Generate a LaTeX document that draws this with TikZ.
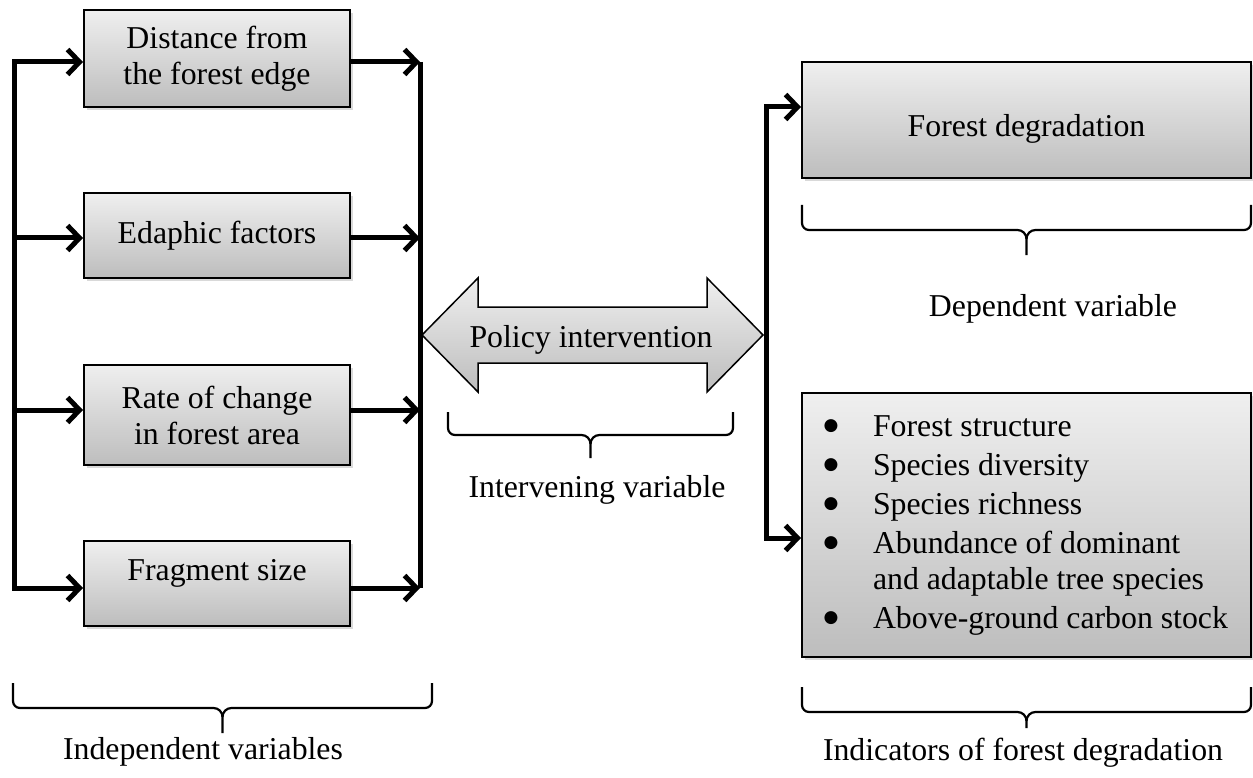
\documentclass[tikz,border=0pt]{standalone}
\usepackage{fontspec}
\setmainfont{Liberation Serif}
\newfontfamily\symfont{DejaVu Sans}
\usetikzlibrary{arrows.meta,shadows}
\definecolor{gtop}{HTML}{EFEFEF}
\definecolor{gbot}{HTML}{BDBDBD}
\newcommand{\mybrace}[5]{%
  \pgfmathsetmacro\bxc{(#1+#2)/2}%
  \pgfmathsetmacro\bxl{#1+7}%
  \pgfmathsetmacro\bxr{#2-7}%
  \pgfmathsetmacro\bxcl{\bxc-9}%
  \pgfmathsetmacro\bxcr{\bxc+9}%
  \pgfmathsetmacro\byc{-#4+7}%
  \pgfmathsetmacro\byb{-#4}%
  \pgfmathsetmacro\bys{-#4-9}%
  \pgfmathsetmacro\byt{-#5}%
  \pgfmathsetmacro\bye{-#3}%
  \draw[bracel] (#1,\bye) -- (#1,\byc) to[out=-90,in=180] (\bxl,\byb)
     -- (\bxcl,\byb) to[out=0,in=90] (\bxc,\bys) -- (\bxc,\byt);
  \draw[bracel] (\bxc,\bys) to[out=90,in=180] (\bxcr,\byb)
     -- (\bxr,\byb) to[out=0,in=-90] (#2,\byc) -- (#2,\bye);
}
\newcommand{\bigbul}{\makebox[12pt][c]{\raisebox{5.5pt}{\fontsize{17}{17}\selectfont\symfont ●}}}
\tikzset{
  every node/.style={font=\fontsize{31.8}{36}\selectfont},
  box/.style={draw=black, line width=2pt, top color=gtop, bottom color=gbot,
    drop shadow={opacity=0.3, shadow xshift=2.5pt, shadow yshift=-3pt},
    inner sep=0pt, align=center, minimum width=266pt},
  bigbox/.style={box, minimum width=449pt},
  conn/.style={line width=5pt},
  arr/.style={-{Straight Barb[length=12pt,width=25pt]}},
  darr/.style={{Straight Barb[length=12pt,width=25pt]}-{Straight Barb[length=12pt,width=25pt]}},
  bracel/.style={line width=2.2pt},
  lbl/.style={inner sep=0pt, anchor=base},
}
\begin{document}
\begin{tikzpicture}[x=1pt,y=1pt]
\useasboundingbox (0,0) rectangle (1253,-778);

% left boxes
\node[box, minimum height=97pt] (b1) at (217,-58.5) {Distance from\\the forest edge};
\node[box, minimum height=85pt] (b2) at (217,-235.5) {Edaphic factors};
\node[box, minimum height=100pt] (b3) at (217,-415) {Rate of change\\in forest area};
\node[box, minimum height=85pt, text height=22pt, text depth=29pt] (b4) at (217,-583.5) {Fragment size};

% right boxes
\node[bigbox, minimum height=116pt, text height=41pt, text depth=7pt] (fd) at (1026.5,-120) {Forest degradation};
\node[bigbox, minimum height=264pt] (ind) at (1026.5,-525) {%
  \begin{tabular}{@{}p{48pt}@{}l@{}}
  \bigbul & Forest structure\\[3pt]
  \bigbul & Species diversity\\[3pt]
  \bigbul & Species richness\\[3pt]
  \bigbul & Abundance of dominant\\
          & and adaptable tree species\\[3pt]
  \bigbul & Above-ground carbon stock
  \end{tabular}};

% bus coordinates
\coordinate (l1) at (14,-62);
\coordinate (l2) at (14,-238);
\coordinate (l3) at (14,-410);
\coordinate (l4) at (14,-588);
\coordinate (r1) at (420,-62);
\coordinate (r2) at (420,-238);
\coordinate (r3) at (420,-410);
\coordinate (r4) at (420,-588);
\coordinate (q1) at (766,-107);
\coordinate (q2) at (766,-538);

% left bus
\draw[conn,darr] (l1 -| b1.west) -- (l1) -- (l4) -- (l4 -| b4.west);
\draw[conn,arr] (l2) -- (l2 -| b2.west);
\draw[conn,arr] (l3) -- (l3 -| b3.west);

% right bus
\draw[conn] (r1) -- (r4);
\draw[conn,arr] (r1 -| b1.east) -- (r1);
\draw[conn,arr] (r2 -| b2.east) -- (r2);
\draw[conn,arr] (r3 -| b3.east) -- (r3);
\draw[conn,arr] (r4 -| b4.east) -- (r4);

% output bus
\draw[conn,darr] (q1 -| fd.west) -- (q1) -- (q2) -- (q2 -| ind.west);

% double arrow
\shade[draw=black, line width=1.5pt, top color=gtop, bottom color=gbot]
  (422,-335) -- (478,-278) -- (478,-307) -- (707,-307) -- (707,-278) -- (763,-335)
  -- (707,-392) -- (707,-363) -- (478,-363) -- (478,-392) -- cycle;
\node[lbl] (policy) at (591,-347) {Policy intervention};

% braces
\mybrace{13}{432}{683}{708}{733}
\mybrace{448}{733}{412}{435}{458}
\mybrace{802}{1251}{205}{230}{255}
\mybrace{802}{1251}{687}{712}{728}

% labels
\node[lbl] (indep) at (203,-759) {Independent variables};
\node[lbl] (interv) at (597,-497) {Intervening variable};
\node[lbl] (dep) at (1053,-316) {Dependent variable};
\node[lbl] (indic) at (1023,-760) {Indicators of forest degradation};
\end{tikzpicture}
\end{document}
